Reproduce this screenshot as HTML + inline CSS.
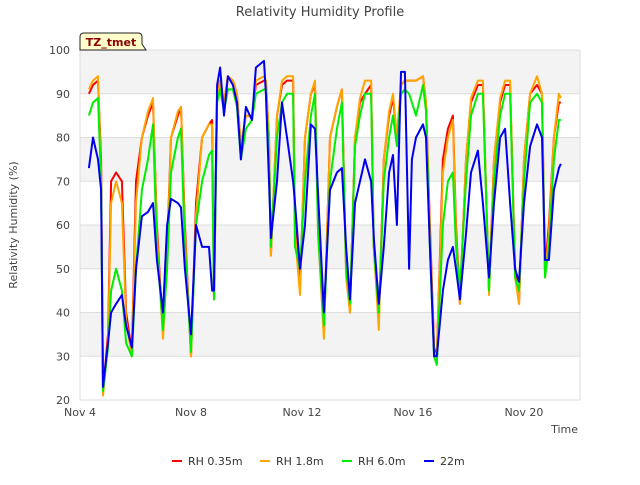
<!DOCTYPE html>
<html><head><meta charset="utf-8"><style>
body{margin:0;background:#fff;font-family:"Liberation Sans","DejaVu Sans",sans-serif}
svg text{font-family:"DejaVu Sans","Liberation Sans",sans-serif}
</style></head><body>
<svg id="chart" width="640" height="480" viewBox="0 0 640 480" xmlns="http://www.w3.org/2000/svg">
<rect width="640" height="480" fill="#fff"/>
<text x="320" y="16" text-anchor="middle" font-size="13" fill="#444">Relativity Humidity Profile</text>
<g id="bands"></g>
<g id="grid"></g>
<g id="yticks"></g>
<g id="xticks"></g>
<g id="series"></g>
<text transform="translate(17,225) rotate(-90)" text-anchor="middle" font-size="11" fill="#444">Relativity Humidity (%)</text>
<text x="578" y="433" text-anchor="end" font-size="11" fill="#444">Time</text>
<g>
<path d="M80,50 L80,37 Q80,33 84,33 L138,33 Q142,33 142,37 L142,44 L146,50 Z" fill="#ffffcc" stroke="#222" stroke-width="1"/>
<text x="111" y="46" text-anchor="middle" font-size="11" font-weight="bold" fill="#8b0000">TZ_tmet</text>
</g>
<g id="legend"></g>
</svg>
<script>
const days=[4.32,4.47,4.65,4.76,4.83,5.01,5.12,5.30,5.51,5.66,5.87,6.02,6.23,6.45,6.63,6.77,6.99,7.14,7.28,7.53,7.64,7.78,8.0,8.18,8.40,8.65,8.76,8.83,8.94,9.05,9.19,9.33,9.51,9.66,9.80,9.98,10.20,10.34,10.63,10.70,10.81,10.88,11.10,11.28,11.46,11.68,11.75,11.93,12.11,12.32,12.47,12.58,12.79,13.01,13.26,13.44,13.59,13.73,13.91,14.09,14.27,14.49,14.59,14.77,14.95,15.14,15.28,15.42,15.57,15.71,15.86,15.96,16.11,16.36,16.47,16.61,16.76,16.86,17.08,17.26,17.44,17.55,17.69,17.91,18.09,18.34,18.52,18.74,18.92,19.14,19.32,19.50,19.68,19.82,20.0,20.22,20.47,20.65,20.76,20.90,21.08,21.26,21.33];
const rh035=[90,92,93,75,22,35,70,72,70,40,31,70,80,85,88,60,35,55,80,85,87,60,30,65,80,83,84,43,90,93,88,94,93,90,78,85,85,92,93,93,80,53,85,92,93,93,60,45,80,90,92,60,35,80,87,91,50,40,80,88,90,92,55,38,75,85,89,80,92,93,93,93,93,94,88,60,32,30,75,82,85,60,42,75,88,92,92,45,75,88,92,92,50,42,75,90,92,90,50,60,80,88,88];
const rh18=[91,93,94,72,21,33,65,70,65,38,30,65,80,86,89,58,34,52,80,86,87,58,30,62,80,83,83,43,88,93,88,94,93,90,78,85,85,93,94,93,80,53,85,93,94,94,58,44,80,90,93,58,34,80,87,91,48,40,80,89,93,93,55,36,75,86,90,80,92,93,93,93,93,94,88,58,31,30,72,80,84,58,42,75,89,93,93,44,75,89,93,93,48,42,75,90,94,90,48,58,80,90,89];
const rh60=[85,88,89,70,22,32,45,50,45,33,30,50,68,75,83,55,36,50,72,80,82,55,31,60,70,76,77,43,88,91,86,91,91,87,75,82,84,90,91,91,75,55,80,88,90,90,55,50,70,85,90,58,37,70,82,88,50,42,78,85,90,90,55,40,70,80,85,78,90,91,90,88,85,92,86,55,30,28,60,70,72,55,45,70,85,90,90,45,70,85,90,90,48,45,70,88,90,88,48,55,75,84,84];
const rh22=[73,80,75,68,23,33,40,42,44,37,32,50,62,63,65,52,40,60,66,65,64,50,35,60,55,55,45,45,92,96,85,94,92,88,75,87,84,96,97.5,90,70,57,70,88,80,70,65,50,60,83,82,67,40,68,72,73,55,43,65,70,75,70,57,42,55,72,76,60,95,95,50,75,80,83,80,55,30,30,45,52,55,50,43,58,72,77,65,48,65,80,82,65,50,47,65,78,83,80,52,52,68,73,74];
const yTicks=[20,30,40,50,60,70,80,90,100];
const xTickDays=[4,8,12,16,20];
const xTickLabels=["Nov 4","Nov 8","Nov 12","Nov 16","Nov 20"];
const seriesNames=["RH 0.35m","RH 1.8m","RH 6.0m","22m"];
const seriesColors=["#ff0000","#ffa500","#00ee00","#0000ee"];
const allSeries=[rh035,rh18,rh60,rh22];

const X0=80,X1=580,Y0=400,Y1=50;
const xs=d=>X0+(d-4)*(X1-X0)/18.02;
const ys=v=>Y0-(v-20)*(Y0-Y1)/80;
const NS="http://www.w3.org/2000/svg";
function mk(tag,attrs,parent){const e=document.createElementNS(NS,tag);for(const k in attrs)e.setAttribute(k,attrs[k]);parent.appendChild(e);return e;}
const bands=document.getElementById('bands'),grid=document.getElementById('grid'),yt=document.getElementById('yticks'),xt=document.getElementById('xticks');
mk('rect',{x:X0,y:Y1,width:X1-X0,height:Y0-Y1,fill:'#fff'},bands);
for(let i=0;i<yTicks.length-1;i++){
  if(i%2===1){const r=mk('rect',{x:X0,y:ys(yTicks[i+1]),width:X1-X0,height:ys(yTicks[i])-ys(yTicks[i+1]),fill:'#f3f3f3'},bands);
  
  }
}
yTicks.forEach(v=>{
  const l=mk('line',{x1:X0,x2:X1,y1:ys(v),y2:ys(v),stroke:'#dddddd','stroke-width':1},grid);
  
  
  const t=mk('text',{x:X0-10,y:ys(v)+4,'text-anchor':'end','font-size':11,fill:'#444'},yt);t.textContent=v;
  
  
});
mk('line',{x1:X0,x2:X0,y1:Y1,y2:Y0,stroke:'#ddd'},grid);
mk('line',{x1:X1,x2:X1,y1:Y1,y2:Y0,stroke:'#ddd'},grid);
xTickDays.forEach((d,i)=>{
  const t=mk('text',{x:xs(d),y:Y0+16,'text-anchor':'middle','font-size':11,fill:'#444'},xt);t.textContent=xTickLabels[i];
  
  
});
const sg=document.getElementById('series');
allSeries.forEach((vals,si)=>{
  const pts=days.map((d,i)=>xs(d).toFixed(1)+','+ys(vals[i]).toFixed(1)).join(' ');
  const p=mk('polyline',{points:pts,fill:'none',stroke:seriesColors[si],'stroke-width':2,'stroke-linejoin':'round'},sg);
  
  
});
const lg=document.getElementById('legend');
const lx=[172,260,342,424];
seriesNames.forEach((n,i)=>{
  const g=mk('g',{},lg);
  
  
  mk('line',{x1:lx[i],x2:lx[i]+10,y1:461,y2:461,stroke:seriesColors[i],'stroke-width':2},g);
  const t=mk('text',{x:lx[i]+16,y:465,'font-size':11,fill:'#333'},g);t.textContent=n;
});
</script>
</body></html>
